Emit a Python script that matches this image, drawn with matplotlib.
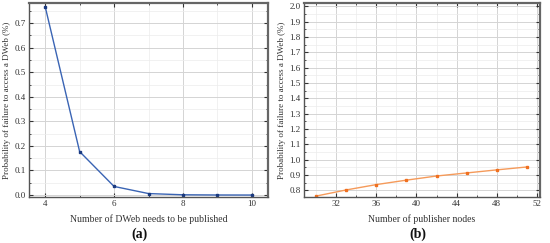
import matplotlib
matplotlib.use("Agg")
import matplotlib.pyplot as plt
from matplotlib.ticker import MultipleLocator, FormatStrFormatter

# Data
dweb_counts = [4, 5, 6, 7, 8, 9, 10]
fail_prob_a = [0.767, 0.177, 0.035, 0.006, 0.001, 0.0002, 0.0]
publisher_nodes = [30, 33, 36, 39, 42, 45, 48, 51]
fail_prob_b = [0.762, 0.802, 0.837, 0.866, 0.893, 0.913, 0.933, 0.952]

xlabel_a = "Number of DWeb needs to be published"
xlabel_b = "Number of publisher nodes"
ylabel = "Probability of failure to access a DWeb (%)"

plt.rcParams['font.family'] = ['Liberation Serif', 'DejaVu Serif']

fig = plt.figure(figsize=(5.5, 2.43), dpi=100)
ax1 = fig.add_axes([29/550, 1-197/243, 239/550, 194/243])
ax2 = fig.add_axes([304/550, 1-197/243, 236/550, 194/243])

def style(ax):
    ax.tick_params(which='both', direction='in', top=True, right=True,
                   labelsize=6.5, colors='#333333', pad=2.5)
    ax.tick_params(which='major', length=3, width=0.8)
    ax.tick_params(which='minor', length=1.5, width=0.6)
    ax.grid(which='major', color='#d4d4d4', linewidth=0.7)
    ax.grid(which='minor', color='#ececec', linewidth=0.5)
    ax.set_axisbelow(True)
    for s in ax.spines.values():
        s.set_color('#555555')
        s.set_linewidth(1.0)
    for s in ['top', 'right']:
        ax.spines[s].set_linewidth(1.6)
        ax.spines[s].set_color('#666666')

ax1.plot(dweb_counts, fail_prob_a, color='#3a64b4', linewidth=1.0,
         marker='s', markersize=2, markerfacecolor='#1a3a80', markeredgecolor='#1a3a80')
ax1.set_xlim(3.53, 10.47)
ax1.set_ylim(-0.008, 0.782)
ax1.xaxis.set_major_locator(MultipleLocator(2))
ax1.xaxis.set_minor_locator(MultipleLocator(1))
ax1.yaxis.set_major_locator(MultipleLocator(0.1))
ax1.yaxis.set_minor_locator(MultipleLocator(0.05))
ax1.yaxis.set_major_formatter(FormatStrFormatter('%.1f'))
style(ax1)
ax1.set_xlabel(xlabel_a, fontsize=7, color='#333333', labelpad=4)
ax1.set_ylabel(ylabel, fontsize=6.5, color='#333333', labelpad=2)

ax2.plot(publisher_nodes, fail_prob_b, color='#f59a5a', linewidth=1.0,
         marker='s', markersize=2, markerfacecolor='#f07020', markeredgecolor='#f07020')
ax2.set_xlim(28.8, 52.3)
ax2.set_ylim(0.756, 2.022)
ax2.xaxis.set_major_locator(MultipleLocator(4))
ax2.xaxis.set_minor_locator(MultipleLocator(2))
ax2.yaxis.set_major_locator(MultipleLocator(0.1))
ax2.yaxis.set_minor_locator(MultipleLocator(0.05))
ax2.yaxis.set_major_formatter(FormatStrFormatter('%.1f'))
style(ax2)
ax2.set_xlabel(xlabel_b, fontsize=7, color='#333333', labelpad=4)
ax2.set_ylabel(ylabel, fontsize=6.5, color='#333333', labelpad=2)

fig.text(140/550, 1-234/243, "(a)", ha='center', va='center', fontsize=10, fontweight='bold', color='#111111')
fig.text(418/550, 1-234/243, "(b)", ha='center', va='center', fontsize=10, fontweight='bold', color='#111111')

fig.savefig("out.png", dpi=100)
